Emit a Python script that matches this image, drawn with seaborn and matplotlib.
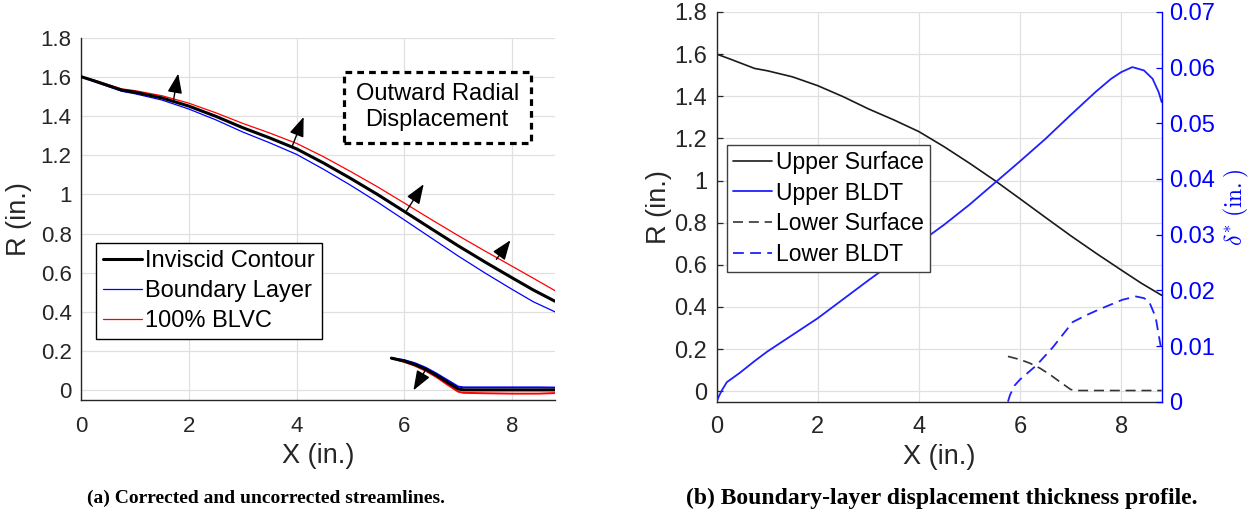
import numpy as np
import pandas as pd
import matplotlib
matplotlib.use("Agg")
import matplotlib.pyplot as plt
import seaborn as sns

# ---------------- data ----------------
x_upper = [0.0, 0.25, 0.5, 0.75, 1.0, 1.5, 2.0, 2.5, 3.0, 3.5, 4.0, 4.5, 5.0,
           5.5, 6.0, 6.5, 7.0, 7.5, 8.0, 8.4, 8.8]
r_inviscid = [1.600, 1.578, 1.555, 1.532, 1.521, 1.492, 1.450, 1.398, 1.340,
              1.288, 1.232, 1.160, 1.082, 1.000, 0.913, 0.825, 0.738, 0.655,
              0.575, 0.512, 0.455]
r_boundary = [1.600, 1.574, 1.550, 1.526, 1.513, 1.481, 1.435, 1.380, 1.318,
              1.263, 1.204, 1.128, 1.047, 0.961, 0.870, 0.778, 0.686, 0.599,
              0.516, 0.452, 0.401]
r_blvc = [1.600, 1.582, 1.560, 1.538, 1.529, 1.503, 1.465, 1.416, 1.362,
          1.313, 1.260, 1.192, 1.117, 1.039, 0.956, 0.872, 0.790, 0.711,
          0.634, 0.572, 0.509]

x_lower = [5.76, 6.0, 6.2, 6.4, 6.6, 6.8, 7.0, 7.1, 7.5, 8.0, 8.5, 8.8]
r_lower_inv = [0.165, 0.150, 0.132, 0.108, 0.077, 0.042, 0.008, 0.003, 0.003,
               0.003, 0.003, 0.003]
r_lower_bl = [0.165, 0.155, 0.139, 0.116, 0.086, 0.053, 0.020, 0.016, 0.016,
              0.016, 0.016, 0.015]
r_lower_blvc = [0.165, 0.146, 0.126, 0.100, 0.068, 0.030, -0.006, -0.012,
                -0.014, -0.016, -0.016, -0.013]

x_bldt = [0.0, 0.05, 0.1, 0.2, 0.46, 0.75, 1.0, 1.5, 2.0, 2.5, 3.0, 3.5, 4.0,
          4.5, 5.0, 5.5, 6.0, 6.5, 7.0, 7.5, 7.8, 8.0, 8.22, 8.45, 8.62, 8.74,
          8.8]
d_upper = [0.0, 0.0011, 0.0020, 0.0035, 0.0052, 0.0073, 0.0090, 0.0120,
           0.0150, 0.0184, 0.0218, 0.0251, 0.0285, 0.0318, 0.0354, 0.0393,
           0.0432, 0.0472, 0.0515, 0.0557, 0.0580, 0.0592, 0.0601, 0.0595,
           0.0580, 0.0556, 0.0538]
x_lower_bldt = [5.76, 5.8, 5.89, 6.0, 6.32, 6.65, 7.04, 7.3, 7.57, 8.02, 8.29,
                8.45, 8.55, 8.68, 8.75, 8.8]
d_lower = [0.0, 0.0012, 0.0029, 0.0040, 0.0065, 0.0098, 0.0143, 0.0155,
           0.0166, 0.0183, 0.0189, 0.0186, 0.0180, 0.0152, 0.0115, 0.0090]

# displacement arrows (base -> tip)
arrow_base_x = [1.71, 3.92, 6.04, 7.71, 6.40]
arrow_base_r = [1.477, 1.247, 0.916, 0.669, 0.108]
arrow_tip_x = [1.80, 4.13, 6.36, 7.97, 6.17]
arrow_tip_r = [1.616, 1.395, 1.052, 0.766, 0.001]

x_ticks = [0, 2, 4, 6, 8]
r_ticks = [0, 0.2, 0.4, 0.6, 0.8, 1.0, 1.2, 1.4, 1.6, 1.8]
d_ticks = [0, 0.01, 0.02, 0.03, 0.04, 0.05, 0.06, 0.07]

# ---------------- style ----------------
sns.set_theme(style="white")
plt.rcParams["font.family"] = ["Liberation Sans", "DejaVu Sans"]
plt.rcParams["mathtext.fontset"] = "cm"
TXT = "#262626"
BLUE_L = "#0000ff"
BLUE_R = "#1f1fff"
GRID = "#e0e0e0"


def fmt(v):
    return "{:g}".format(v)


def style_axes(ax, size, xpad):
    for s in ["top", "right"]:
        ax.spines[s].set_visible(False)
    for s in ["left", "bottom"]:
        ax.spines[s].set_color(TXT)
        ax.spines[s].set_linewidth(1.0)
    ax.grid(True, color=GRID, linewidth=0.9)
    ax.set_axisbelow(True)
    ax.tick_params(direction="in", length=4, width=0.9, colors=TXT,
                   labelsize=size, labelcolor=TXT)
    ax.tick_params(axis="x", pad=xpad)
    ax.tick_params(axis="y", pad=7)
    ax.set_xlim(0, 8.8)
    ax.set_ylim(-0.05, 1.8)
    ax.set_xticks(x_ticks)
    ax.set_xticklabels([fmt(v) for v in x_ticks])
    ax.set_yticks(r_ticks)
    ax.set_yticklabels([fmt(v) for v in r_ticks])


fig = plt.figure(figsize=(12.49, 5.14), dpi=100)
ax1 = fig.add_axes([0.0651, 0.2212, 0.3793, 0.7058])
ax2 = fig.add_axes([0.5738, 0.2185, 0.3563, 0.7582])

# ---------------- left panel ----------------
sns.lineplot(x=x_upper, y=r_inviscid, ax=ax1, color="black", lw=2.2,
             sort=False, estimator=None, zorder=4)
h_inv = ax1.lines[-1]
sns.lineplot(x=x_upper, y=r_boundary, ax=ax1, color=BLUE_L, lw=0.9,
             sort=False, estimator=None, zorder=3)
h_bl = ax1.lines[-1]
sns.lineplot(x=x_upper, y=r_blvc, ax=ax1, color="#ff0000", lw=0.9,
             sort=False, estimator=None, zorder=3)
h_blvc = ax1.lines[-1]
sns.lineplot(x=x_lower, y=r_lower_bl, ax=ax1, color=BLUE_L, lw=1.4,
             sort=False, estimator=None, zorder=3)
sns.lineplot(x=x_lower, y=r_lower_blvc, ax=ax1, color="#ff0000", lw=1.4,
             sort=False, estimator=None, zorder=3)
sns.lineplot(x=x_lower, y=r_lower_inv, ax=ax1, color="black", lw=2.2,
             sort=False, estimator=None, zorder=4)

for bx, br, tx, tr in zip(arrow_base_x, arrow_base_r, arrow_tip_x, arrow_tip_r):
    ax1.annotate("", xy=(tx, tr), xytext=(bx, br),
                 arrowprops=dict(arrowstyle="-|>,head_length=0.8,head_width=0.3",
                                 color="black", lw=1.0, shrinkA=0, shrinkB=0,
                                 mutation_scale=15), zorder=6)

ax1.text(6.61, 1.445, "Outward Radial\nDisplacement", ha="center", va="center",
         fontsize=17, color="black", linespacing=1.2, zorder=7,
         bbox=dict(boxstyle="square,pad=0.5", fc="white", ec="black",
                   lw=2.3, ls=(0, (2.1, 1.6))))

style_axes(ax1, 16, 11)
leg1 = ax1.legend([h_inv, h_bl, h_blvc],
                  ["Inviscid Contour", "Boundary Layer", "100% BLVC"],
                  loc="upper left", bbox_to_anchor=(0.031, 0.4327),
                  borderaxespad=0, frameon=True, fancybox=False,
                  edgecolor="black", fontsize=17, handlelength=1.65,
                  handletextpad=0.13, labelspacing=0.33, borderpad=0.3,
                  framealpha=1)
leg1.get_frame().set_linewidth(1.0)
for t in leg1.get_texts():
    t.set_color("black")

ax1.set_xlabel("X (in.)", fontsize=19.5, color=TXT)
ax1.xaxis.set_label_coords(0.5, -0.118)
ax1.set_ylabel("R (in.)", fontsize=19.5, color=TXT)
ax1.yaxis.set_label_coords(-0.104, 0.5)

# ---------------- right panel ----------------
ax2r = ax2.twinx()
sns.lineplot(x=x_upper, y=r_inviscid, ax=ax2, color="#1a1a1a", lw=1.2,
             sort=False, estimator=None)
h_us = ax2.lines[-1]
sns.lineplot(x=x_lower, y=r_lower_inv, ax=ax2, color="#333333", lw=1.2,
             linestyle=(0, (6, 3.5)), sort=False, estimator=None)
h_ls = ax2.lines[-1]
sns.lineplot(x=x_bldt, y=d_upper, ax=ax2r, color=BLUE_R, lw=1.3,
             sort=False, estimator=None)
h_ub = ax2r.lines[-1]
sns.lineplot(x=x_lower_bldt, y=d_lower, ax=ax2r, color=BLUE_R, lw=1.3,
             linestyle=(0, (6, 3.5)), sort=False, estimator=None)
h_lb = ax2r.lines[-1]

style_axes(ax2, 17, 10.5)
ax2r.set_ylim(0, 0.07)
ax2r.set_yticks(d_ticks)
ax2r.set_yticklabels([fmt(v) for v in d_ticks])
ax2r.grid(False)
for s in ["top", "left", "bottom"]:
    ax2r.spines[s].set_visible(False)
ax2r.spines["right"].set_color("#0000ff")
ax2r.spines["right"].set_linewidth(1.0)
ax2r.tick_params(axis="y", direction="in", length=4, width=0.9,
                 colors="#0000ff", labelcolor="#0000ff", labelsize=17, pad=5)

leg2 = ax2r.legend([h_us, h_ub, h_ls, h_lb],
                   ["Upper Surface", "Upper BLDT", "Lower Surface", "Lower BLDT"],
                   loc="upper left", bbox_to_anchor=(0.0238, 0.6587),
                   borderaxespad=0, frameon=True, fancybox=False,
                   edgecolor="#404040", fontsize=16.5, handlelength=1.7,
                   handletextpad=0.18, labelspacing=0.34, borderpad=0.25,
                   framealpha=1)
leg2.get_frame().set_linewidth(1.0)
for t in leg2.get_texts():
    t.set_color("black")

ax2.set_xlabel("X (in.)", fontsize=19.5, color=TXT)
ax2.xaxis.set_label_coords(0.5, -0.108)
ax2.set_ylabel("R (in.)", fontsize=19.5, color=TXT)
ax2.yaxis.set_label_coords(-0.100, 0.5)
ax2r.set_ylabel(r"$\delta^{*}\;\mathrm{(in.)}$", fontsize=17, color="#0000ff")
ax2r.yaxis.set_label_coords(1.135, 0.5)

# ---------------- captions ----------------
fig.text(0.2130, 0.0311, "(a) Corrected and uncorrected streamlines.",
         ha="center", va="center", fontsize=14.0, fontweight="bold",
         family="Liberation Serif", color="black")
fig.text(0.7542, 0.0311, "(b) Boundary-layer displacement thickness profile.",
         ha="center", va="center", fontsize=17.0, fontweight="bold",
         family="Liberation Serif", color="black")

fig.savefig("out.png", dpi=100, facecolor="white")
